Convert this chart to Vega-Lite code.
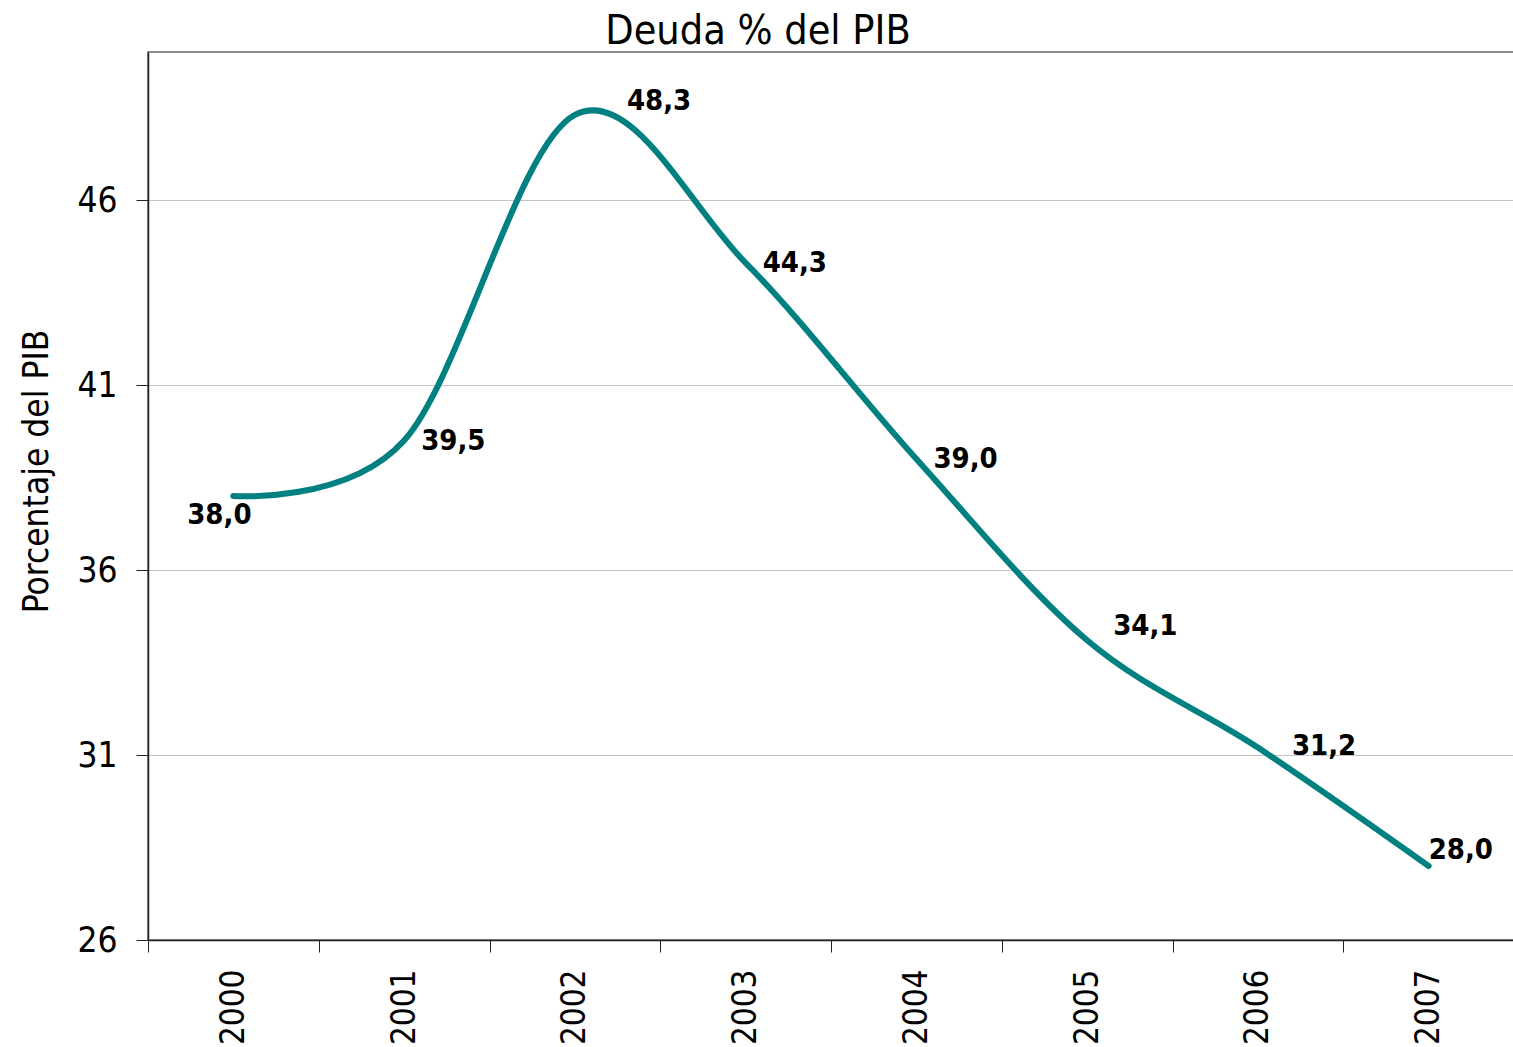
{
  "$schema": "https://vega.github.io/schema/vega-lite/v6.json",
  "autosize": "none",
  "padding": {"left": 148, "top": 52, "right": 0, "bottom": 107},
  "width": 1366,
  "height": 888,
  "background": "white",
  "config": {
    "font": "DejaVu Sans Condensed, DejaVu Sans, sans-serif",
    "locale": {"number": {"decimal": ",", "thousands": ".", "grouping": [3], "currency": ["", " €"]}},
    "view": {"stroke": "#8a8a8a", "strokeWidth": 2},
    "axis": {"labelColor": "black", "titleColor": "black", "labelFont": "DejaVu Sans Condensed, DejaVu Sans, sans-serif", "titleFont": "DejaVu Sans Condensed, DejaVu Sans, sans-serif"}
  },
  "title": {
    "text": "Deuda % del PIB",
    "fontSize": 41,
    "fontWeight": "normal",
    "color": "black",
    "anchor": "middle",
    "dx": -73,
    "offset": -33,
    "baseline": "alphabetic",
    "font": "DejaVu Sans Condensed, DejaVu Sans, sans-serif"
  },
  "data": {
    "values": [
      {"year": "2000", "value": 38.0},
      {"year": "2001", "value": 39.5},
      {"year": "2002", "value": 48.3},
      {"year": "2003", "value": 44.3},
      {"year": "2004", "value": 39.0},
      {"year": "2005", "value": 34.1},
      {"year": "2006", "value": 31.2},
      {"year": "2007", "value": 28.0}
    ]
  },
  "encoding": {
    "x": {
      "field": "year", "type": "ordinal",
      "scale": {"type": "band", "paddingInner": 0, "paddingOuter": 0},
      "axis": {
        "title": null, "labelAngle": -90, "labelFontSize": 33, "labelPadding": 17,
        "tickBand": "extent", "tickSize": 12, "tickColor": "#222", "domainColor": "#222", "domainWidth": 1.5,
        "grid": false
      }
    },
    "y": {
      "field": "value", "type": "quantitative",
      "scale": {"domain": [26, 50], "nice": false, "zero": false},
      "axis": {
        "title": "Porcentaje del PIB", "titleFontSize": 35, "titleFontWeight": "normal",
        "titleX": -101, "titleY": 419, "titleAngle": -90, "titleAlign": "center", "titleBaseline": "alphabetic",
        "values": [26, 31, 36, 41, 46], "labelFontSize": 35, "labelPadding": 19,
        "tickSize": 12, "tickColor": "#222", "domainColor": "#222", "domainWidth": 1.5,
        "grid": true, "gridColor": "#c4c4c4", "gridWidth": 1
      }
    }
  },
  "layer": [
    {
      "mark": {"type": "line", "interpolate": "cardinal", "color": "#008080", "strokeWidth": 6, "strokeCap": "round"}
    },
    {
      "transform": [{"filter": {"field": "year", "oneOf": ["2001", "2003", "2004"]}}],
      "mark": {"type": "text", "align": "left", "baseline": "middle", "dx": 17, "dy": 0, "fontSize": 29, "fontWeight": "bold", "color": "black"},
      "encoding": {"text": {"field": "value", "type": "quantitative", "format": ".1f"}}
    },
    {
      "transform": [{"filter": {"field": "year", "equal": "2006"}}],
      "mark": {"type": "text", "align": "left", "baseline": "middle", "dx": 34, "dy": -2, "fontSize": 29, "fontWeight": "bold", "color": "black"},
      "encoding": {"text": {"field": "value", "type": "quantitative", "format": ".1f"}}
    },
    {
      "transform": [{"filter": {"field": "year", "equal": "2005"}}],
      "mark": {"type": "text", "align": "left", "baseline": "middle", "dx": 26, "dy": -14, "fontSize": 29, "fontWeight": "bold", "color": "black"},
      "encoding": {"text": {"field": "value", "type": "quantitative", "format": ".1f"}}
    },
    {
      "transform": [{"filter": {"field": "year", "equal": "2002"}}],
      "mark": {"type": "text", "align": "left", "baseline": "middle", "dx": 52, "dy": -14, "fontSize": 29, "fontWeight": "bold", "color": "black"},
      "encoding": {"text": {"field": "value", "type": "quantitative", "format": ".1f"}}
    },
    {
      "transform": [{"filter": {"field": "year", "equal": "2007"}}],
      "mark": {"type": "text", "align": "left", "baseline": "middle", "dx": 0, "dy": -16, "fontSize": 29, "fontWeight": "bold", "color": "black"},
      "encoding": {"text": {"field": "value", "type": "quantitative", "format": ".1f"}}
    },
    {
      "transform": [{"filter": {"field": "year", "equal": "2000"}}],
      "mark": {"type": "text", "align": "center", "baseline": "middle", "dx": -14, "dy": 19, "fontSize": 29, "fontWeight": "bold", "color": "black"},
      "encoding": {"text": {"field": "value", "type": "quantitative", "format": ".1f"}}
    }
  ]
}
